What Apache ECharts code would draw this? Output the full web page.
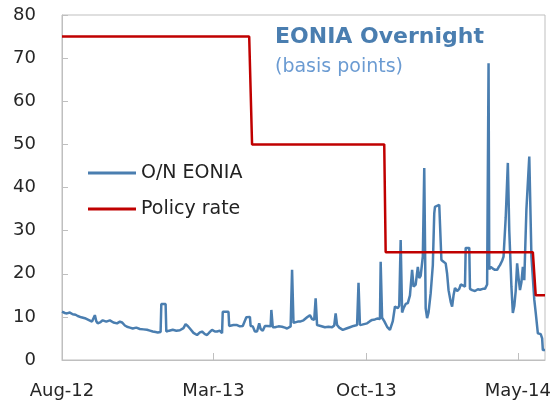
<!DOCTYPE html>
<html>
<head>
<meta charset="utf-8">
<script src="https://cdn.jsdelivr.net/npm/echarts@6/dist/echarts.min.js"></script>
<style>
  html, body { margin: 0; padding: 0; background: #fff; }
  #chart { width: 556px; height: 402px; }
</style>
</head>
<body>
<div id="chart"></div>
<script>
// x values are days counted from 1 Aug 2012
var tickDays = [0, 212, 426, 638]
var tickLabels = ['Aug-12', 'Mar-13', 'Oct-13', 'May-14']

// overnight EONIA, basis points
var eoniaDays = [
  0, 4, 7, 11, 15, 19, 22, 27, 32, 37, 42, 44, 46, 48, 50, 54, 57, 62, 67, 72,
  77, 81, 84, 88, 91, 95, 99, 104, 109, 114, 119, 123, 127, 131, 134, 138, 139, 145, 146, 150,
  155, 160, 165, 170, 173, 176, 179, 184, 189, 193, 196, 200, 203, 207, 210, 214, 217, 221, 224, 225,
  233, 234, 240, 245, 249, 253, 258, 263, 264, 267, 270, 273, 276, 278, 281, 284, 287, 292, 293, 295,
  298, 303, 308, 312, 315, 320, 322, 324, 326, 330, 333, 338, 343, 347, 350, 353, 355, 357, 362, 368,
  373, 378, 381, 383, 385, 388, 393, 398, 403, 408, 413, 415, 417, 420, 427, 431, 434, 438, 441, 445,
  446, 448, 451, 455, 459, 463, 466, 470, 472, 474, 476, 478, 481, 484, 487, 490, 492, 495, 498, 500,
  502, 505, 507, 509, 511, 513, 516, 519, 521, 522, 528, 529, 531, 534, 537, 539, 541, 544, 546, 548,
  550, 553, 556, 558, 561, 564, 565, 570, 571, 574, 578, 582, 585, 589, 592, 595, 597, 598, 600, 603,
  606, 609, 611, 613, 616, 618, 621, 624, 626, 629, 631, 633, 635, 637, 639, 641, 643, 645, 647, 650,
  654, 657, 661, 663, 666, 668, 670, 672, 673, 676
]
var eoniaBp = [
  11.2, 10.9, 10.8, 11.0, 10.6, 10.5, 10.2, 9.9, 9.7, 9.3, 8.9, 9.1, 10.4, 9.0, 8.5, 8.8, 9.2, 8.9, 9.2, 8.7,
  8.5, 8.9, 8.7, 8.0, 7.7, 7.5, 7.3, 7.5, 7.2, 7.1, 7.0, 6.8, 6.6, 6.5, 6.4, 6.5, 13.0, 13.0, 6.6, 6.8,
  7.0, 6.8, 6.9, 7.4, 8.3, 7.9, 7.3, 6.3, 5.8, 6.4, 6.6, 6.0, 5.8, 6.5, 7.0, 6.6, 6.6, 6.8, 6.2, 11.2,
  11.2, 7.9, 8.1, 8.1, 7.8, 7.9, 9.9, 10.0, 7.9, 7.8, 6.6, 6.6, 8.5, 7.2, 6.8, 7.9, 7.9, 7.8, 11.6, 7.6,
  7.6, 7.8, 7.7, 7.5, 7.3, 7.8, 20.9, 8.6, 8.6, 8.9, 8.9, 9.2, 9.9, 10.4, 9.5, 9.3, 14.3, 8.1, 7.9, 7.6,
  7.7, 7.6, 8.0, 10.8, 8.1, 7.5, 7.0, 7.3, 7.6, 7.9, 8.1, 17.9, 8.1, 8.2, 8.5, 9.0, 9.3, 9.4, 9.6, 9.5,
  22.8, 9.8, 9.0, 7.7, 7.0, 9.0, 12.4, 12.0, 12.6, 27.8, 11.0, 12.0, 13.0, 13.2, 15.0, 20.9, 17.0, 17.5, 21.6, 19.0,
  19.5, 24.0, 44.5, 12.0, 9.7, 11.0, 15.5, 22.0, 34.0, 35.5, 36.0, 36.0, 23.2, 22.8, 22.4, 20.0, 16.2, 13.5, 12.4, 15.0,
  16.7, 16.0, 16.5, 17.5, 17.3, 17.0, 26.0, 26.0, 16.5, 16.2, 16.0, 16.4, 16.3, 16.5, 16.5, 17.5, 68.8, 21.0, 21.6, 21.2,
  20.9, 20.9, 21.5, 22.0, 23.0, 24.0, 33.0, 45.7, 30.0, 17.0, 10.9, 12.5, 16.0, 22.4, 19.0, 16.2, 18.0, 21.6, 18.5, 35.0,
  47.2, 24.0, 14.0, 11.0, 6.2, 6.5, 6.0, 5.0, 2.3, 2.3
]

// ECB policy rate, basis points
var policyDays = [0, 262, 266, 451, 453, 659, 663, 676]
var policyBp = [75, 75, 50, 50, 25, 25, 15, 15]

function pairs (xs, ys) {
  var out = []
  for (var i = 0; i < xs.length; i++) {
    out.push([xs[i], ys[i]])
  }
  return out
}

var myChart = echarts.init(document.getElementById('chart'))
var font = 'DejaVu Sans'

var option = {
  animation: false,
  title: [
    {
      text: 'EONIA Overnight',
      left: 275,
      top: 26,
      padding: 0,
      textStyle: { fontFamily: font, fontSize: 22, fontWeight: 'bold', color: '#4a7eb0' }
    },
    {
      text: '(basis points)',
      left: 275,
      top: 58,
      padding: 0,
      textStyle: { fontFamily: font, fontSize: 19, fontWeight: 'normal', color: '#6b9bd2' }
    }
  ],
  legend: {
    orient: 'vertical',
    left: 88,
    top: 163,
    itemWidth: 48,
    itemHeight: 3,
    itemGap: 16,
    padding: 0,
    icon: 'rect',
    textStyle: { fontFamily: font, fontSize: 19, color: '#222', lineHeight: 20 },
    data: ['O/N EONIA', 'Policy rate']
  },
  grid: {
    left: 62,
    right: 11,
    top: 15,
    bottom: 42,
    show: true,
    borderColor: '#bfbfbf',
    borderWidth: 1
  },
  xAxis: {
    type: 'value',
    min: 0,
    max: 676,
    axisLine: { lineStyle: { color: '#bfbfbf', width: 1 } },
    axisTick: { show: true, inside: true, length: 7, customValues: tickDays, lineStyle: { color: '#bfbfbf' } },
    axisLabel: {
      customValues: tickDays,
      margin: 22,
      fontFamily: font,
      fontSize: 18,
      color: '#262626',
      formatter: function (v) {
        var i = tickDays.indexOf(v)
        return i >= 0 ? tickLabels[i] : ''
      }
    },
    splitLine: { show: false }
  },
  yAxis: {
    type: 'value',
    min: 0,
    max: 80,
    interval: 10,
    axisLine: { show: true, lineStyle: { color: '#bfbfbf', width: 1 } },
    axisTick: { show: true, inside: true, length: 6, lineStyle: { color: '#bfbfbf' } },
    axisLabel: { margin: 26, fontFamily: font, fontSize: 18, color: '#262626' },
    splitLine: { show: false }
  },
  series: [
    {
      name: 'O/N EONIA',
      type: 'line',
      symbol: 'none',
      data: pairs(eoniaDays, eoniaBp),
      itemStyle: { color: '#4a7eb0' },
      lineStyle: { color: '#4a7eb0', width: 2.5 },
      z: 2
    },
    {
      name: 'Policy rate',
      type: 'line',
      symbol: 'none',
      data: pairs(policyDays, policyBp),
      itemStyle: { color: '#c00000' },
      lineStyle: { color: '#c00000', width: 2.5 },
      z: 3
    }
  ]
}
myChart.setOption(option)
</script>
</body>
</html>
